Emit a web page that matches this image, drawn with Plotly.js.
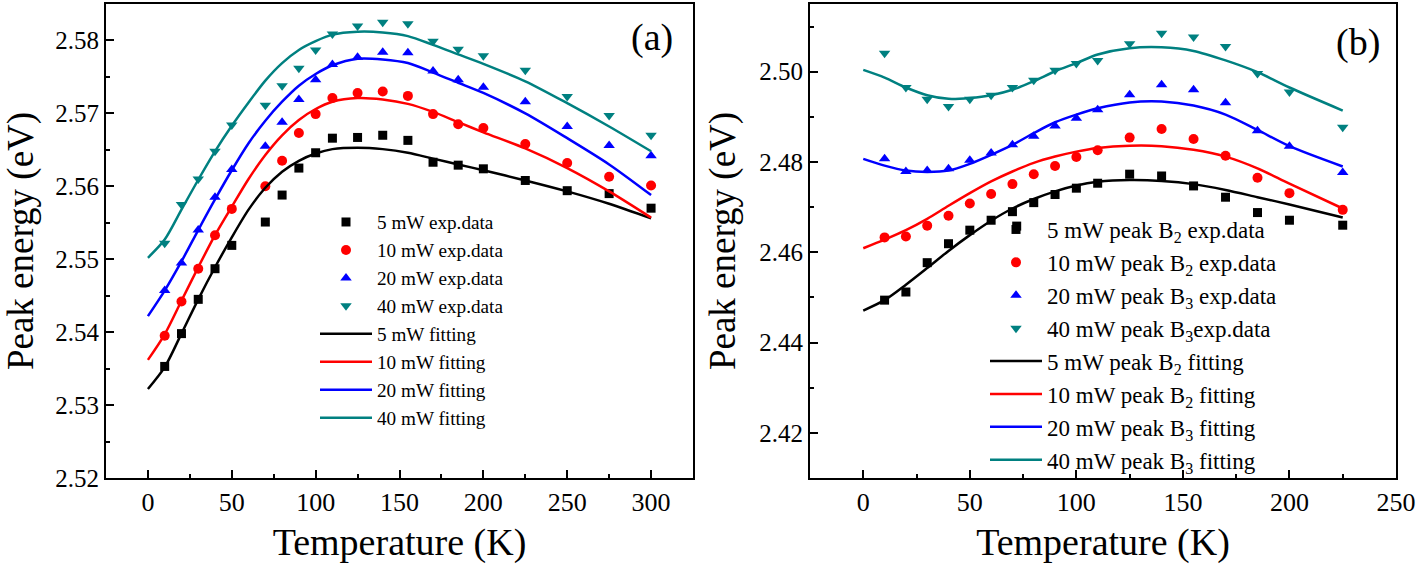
<!DOCTYPE html>
<html><head><meta charset="utf-8">
<script src="https://cdn.plot.ly/plotly-3.0.1.min.js"></script>
<style>html,body{margin:0;padding:0;background:#fff}#chart{width:1418px;height:564px}</style>
</head><body><div id="chart"></div>
<script>
// ---------- Panel (a) ----------
const tempA = [10,20,30,40,50,70,80,90,100,110,125,140,155,170,185,200,225,250,275,300];
const a5  = [2.5353,2.5398,2.5445,2.5487,2.5519,2.5551,2.5588,2.5625,2.5646,2.5666,2.5667,2.5670,2.5663,2.5633,2.5629,2.5624,2.5608,2.5594,2.5590,2.5570];
const a10 = [2.5395,2.5442,2.5487,2.5533,2.5569,2.5600,2.5635,2.5673,2.5699,2.5721,2.5728,2.5730,2.5724,2.5699,2.5685,2.5680,2.5658,2.5632,2.5613,2.5601];
const a20 = [2.5457,2.5495,2.5540,2.5585,2.5623,2.5655,2.5688,2.5719,2.5746,2.5767,2.5777,2.5784,2.5783,2.5758,2.5746,2.5736,2.5716,2.5682,2.5656,2.5642];
const a40 = [2.5522,2.5575,2.5610,2.5648,2.5684,2.5711,2.5738,2.5762,2.5787,2.5809,2.5820,2.5825,2.5823,2.5799,2.5788,2.5779,2.5759,2.5723,2.5697,2.5670];

const fitTempA = [0,10,20,30,40,50,60,70,80,90,100,110,125,140,155,170,185,200,225,250,275,300];
const fitA5  = [2.5322,2.5352,2.5398,2.5445,2.5489,2.5530,2.5568,2.5598,2.5620,2.5635,2.5645,2.5651,2.5653,2.5651,2.5646,2.5638,2.5630,2.5622,2.5608,2.5593,2.5576,2.5556];
const fitA10 = [2.5362,2.5397,2.5443,2.5489,2.5533,2.5572,2.5610,2.5643,2.5670,2.5691,2.5706,2.5716,2.5721,2.5719,2.5713,2.5702,2.5688,2.5674,2.5652,2.5625,2.5593,2.5557];
const fitA20 = [2.5422,2.5457,2.5497,2.5540,2.5582,2.5622,2.5659,2.5690,2.5716,2.5738,2.5754,2.5766,2.5775,2.5774,2.5769,2.5756,2.5742,2.5728,2.5700,2.5666,2.5630,2.5588];
const fitA40 = [2.5502,2.5527,2.5568,2.5609,2.5648,2.5683,2.5715,2.5745,2.5769,2.5787,2.5799,2.5808,2.5812,2.5811,2.5806,2.5794,2.5781,2.5768,2.5744,2.5714,2.5682,2.5648];

const namesA = ['5 mW exp.data','10 mW exp.data','20 mW exp.data','40 mW exp.data',
                '5 mW fitting','10 mW fitting','20 mW fitting','40 mW fitting'];

// ---------- Panel (b) ----------
const tempB5 = [10,20,30,40,50,60,70,72,80,90,100,110,125,140,155,170,185,200,225];
const b5  = [2.4494,2.4512,2.4577,2.4619,2.4649,2.4671,2.4690,2.4658,2.4710,2.4728,2.4742,2.4753,2.4773,2.4769,2.4747,2.4722,2.4688,2.4671,2.4660];
const tempB = [10,20,30,40,50,60,70,80,90,100,110,125,140,155,170,185,200,225];
const b10 = [2.4633,2.4635,2.4659,2.4681,2.4708,2.4729,2.4751,2.4773,2.4791,2.4811,2.4826,2.4854,2.4873,2.4851,2.4814,2.4765,2.4731,2.4694];
const b20 = [2.4807,2.4779,2.4781,2.4785,2.4804,2.4820,2.4838,2.4857,2.4880,2.4897,2.4916,2.4949,2.4971,2.4960,2.4931,2.4869,2.4835,2.4777];
const b40 = [2.5041,2.4965,2.4939,2.4923,2.4939,2.4948,2.4965,2.4981,2.5003,2.5018,2.5025,2.5062,2.5085,2.5077,2.5056,2.4996,2.4955,2.4877];

const fitTempB = [0,10,20,30,40,50,60,70,80,90,100,110,125,140,155,170,185,200,225];
const fitB5  = [2.4471,2.4494,2.4528,2.4565,2.4603,2.4638,2.4670,2.4697,2.4718,2.4735,2.4748,2.4756,2.4760,2.4758,2.4751,2.4738,2.4722,2.4706,2.4677];
const fitB10 = [2.4609,2.4628,2.4649,2.4674,2.4703,2.4731,2.4757,2.4779,2.4798,2.4812,2.4823,2.4831,2.4836,2.4835,2.4827,2.4812,2.4786,2.4752,2.4697];
const fitB20 = [2.4807,2.4792,2.4781,2.4778,2.4781,2.4796,2.4816,2.4838,2.4864,2.4888,2.4905,2.4919,2.4932,2.4934,2.4925,2.4905,2.4871,2.4835,2.4790];
const fitB40 = [2.5004,2.4987,2.4965,2.4948,2.4940,2.4942,2.4948,2.4960,2.4979,2.5001,2.5019,2.5038,2.5052,2.5054,2.5046,2.5025,2.4999,2.4965,2.4914];

const namesB = ['5 mW peak B<sub>2</sub> exp.data','10 mW peak B<sub>2</sub> exp.data',
                '20 mW peak B<sub>3</sub> exp.data','40 mW peak B<sub>3</sub>exp.data',
                '5 mW peak B<sub>2</sub> fitting','10 mW peak B<sub>2</sub> fitting',
                '20 mW peak B<sub>3</sub> fitting','40 mW peak B<sub>3</sub> fitting'];

// ---------- styles ----------
const colors = ['#000000','#ff0000','#0000ff','#008080'];
const symbols = ['square','circle','triangle-up','triangle-down'];
const msizes = [9,10,10,10];
const FONT = 'Liberation Serif, Times New Roman, serif';

function pts(x, y, i, name, xa, ya, leg) {
  return {x, y, name, type:'scatter', mode:'markers', xaxis:xa, yaxis:ya, legend:leg,
          legendgroup: leg + 'm' + i,
          marker:{symbol:symbols[i], size:msizes[i], color:colors[i], line:{width:0}}};
}
function fit(x, y, i, name, xa, ya, leg) {
  return {x, y, name, type:'scatter', mode:'lines', xaxis:xa, yaxis:ya, legend:leg,
          legendgroup: leg + 'l' + i,
          line:{color:colors[i], width:2.5, shape:'spline', smoothing:0.8}};
}

const traces = [
  pts(tempA, a5, 0, namesA[0], 'x', 'y', 'legend'),
  pts(tempA, a10, 1, namesA[1], 'x', 'y', 'legend'),
  pts(tempA, a20, 2, namesA[2], 'x', 'y', 'legend'),
  pts(tempA, a40, 3, namesA[3], 'x', 'y', 'legend'),
  fit(fitTempA, fitA5, 0, namesA[4], 'x', 'y', 'legend'),
  fit(fitTempA, fitA10, 1, namesA[5], 'x', 'y', 'legend'),
  fit(fitTempA, fitA20, 2, namesA[6], 'x', 'y', 'legend'),
  fit(fitTempA, fitA40, 3, namesA[7], 'x', 'y', 'legend'),
  pts(tempB5, b5, 0, namesB[0], 'x2', 'y2', 'legend2'),
  pts(tempB, b10, 1, namesB[1], 'x2', 'y2', 'legend2'),
  pts(tempB, b20, 2, namesB[2], 'x2', 'y2', 'legend2'),
  pts(tempB, b40, 3, namesB[3], 'x2', 'y2', 'legend2'),
  fit(fitTempB, fitB5, 0, namesB[4], 'x2', 'y2', 'legend2'),
  fit(fitTempB, fitB10, 1, namesB[5], 'x2', 'y2', 'legend2'),
  fit(fitTempB, fitB20, 2, namesB[6], 'x2', 'y2', 'legend2'),
  fit(fitTempB, fitB40, 3, namesB[7], 'x2', 'y2', 'legend2')
];

const W = 1418, TOP = 4, PH = 474;
const py = p => 1 - (p - TOP) / PH;

function xax(domain, range, anchor) {
  return {domain, range, anchor, dtick:50, tick0:0, ticks:'inside', ticklen:8, tickwidth:2,
    tickcolor:'#000', showline:true, linewidth:2, linecolor:'#000', mirror:true,
    showgrid:false, zeroline:false, tickfont:{family:FONT, size:26, color:'#000'},
    minor:{ticks:'inside', ticklen:4, tickwidth:2, tickcolor:'#000', dtick:25, tick0:0, showgrid:false},
    title:{text:'Temperature (K)', font:{family:FONT, size:38, color:'#000'}, standoff:12}};
}
function yax(range, dtick, tick0, mdtick, anchor) {
  return {range, anchor, dtick, tick0, tickformat:'.2f', ticks:'inside', ticklen:8, tickwidth:2,
    tickcolor:'#000', showline:true, linewidth:2, linecolor:'#000', mirror:true,
    showgrid:false, zeroline:false, tickfont:{family:FONT, size:25, color:'#000'},
    minor:{ticks:'inside', ticklen:4, tickwidth:2, tickcolor:'#000', dtick:mdtick, showgrid:false},
    title:{text:'Peak energy (eV)', font:{family:FONT, size:37, color:'#000'}, standoff:12}};
}

const layout = {
  width: W, height: 564,
  margin:{l:0, r:0, t:TOP, b:86, pad:0},
  paper_bgcolor:'#fff', plot_bgcolor:'#fff',
  font:{family:FONT, size:20, color:'#000'},
  showlegend:true,
  xaxis: xax([106/W, 693/W], [-25, 325], 'y'),
  yaxis: yax([2.52, 2.585], 0.01, 2.52, 0.005, 'x'),
  xaxis2: xax([810/W, 1396/W], [-25, 250], 'y2'),
  yaxis2: yax([2.41, 2.515], 0.02, 2.42, 0.01, 'x2'),
  legend:{x:315/W, xanchor:'left', y:py(203), yanchor:'top', bgcolor:'rgba(0,0,0,0)',
          font:{family:FONT, size:19.2, color:'#000'}, itemwidth:52, traceorder:'grouped', tracegroupgap:0},
  legend2:{x:985/W, xanchor:'left', y:py(208), yanchor:'top', bgcolor:'rgba(0,0,0,0)',
          font:{family:FONT, size:23, color:'#000'}, itemwidth:52, traceorder:'grouped', tracegroupgap:0},
  annotations:[
    {text:'(a)', xref:'paper', yref:'paper', x:652/W, y:py(37), showarrow:false,
     xanchor:'center', yanchor:'middle', font:{family:FONT, size:38, color:'#000'}},
    {text:'(b)', xref:'paper', yref:'paper', x:1358/W, y:py(42), showarrow:false,
     xanchor:'center', yanchor:'middle', font:{family:FONT, size:38, color:'#000'}}
  ]
};

Plotly.newPlot('chart', traces, layout, {displayModeBar:false, staticPlot:true});
</script></body></html>
